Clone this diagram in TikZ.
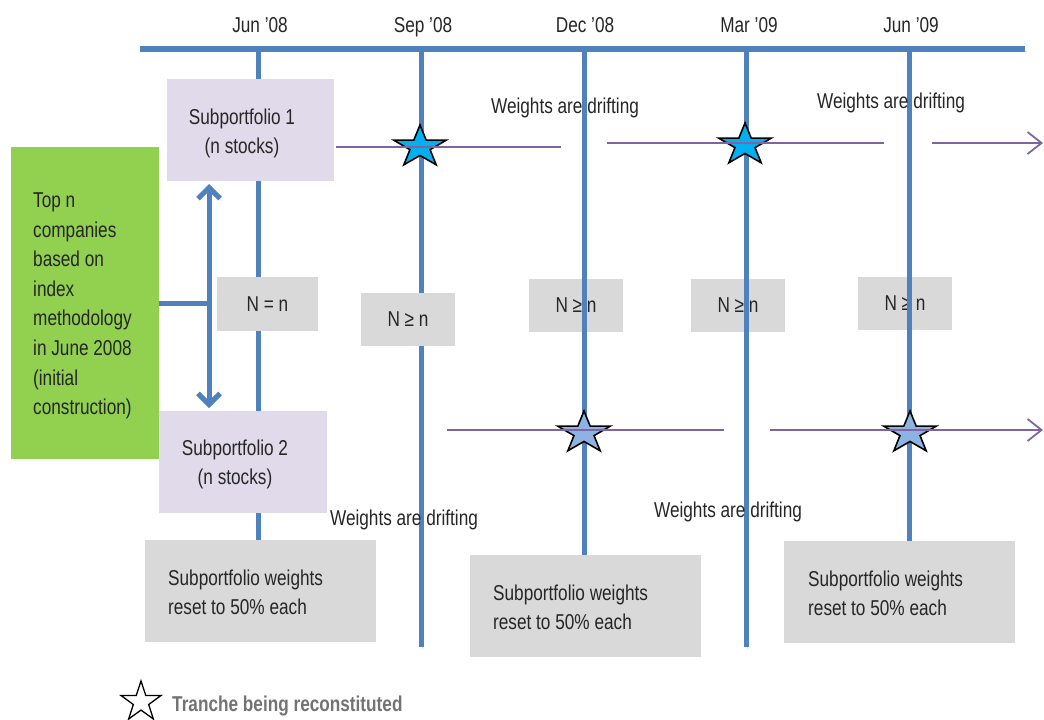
\documentclass[tikz,border=0pt]{standalone}
\usepackage{fontspec}
\setmainfont{Liberation Sans}[FakeStretch=0.8]
\usetikzlibrary{arrows.meta,shapes.geometric,calc}
\definecolor{tblue}{HTML}{4F81BD}
\definecolor{lav}{HTML}{E0DAEA}
\definecolor{lgray}{HTML}{D9D9D9}
\definecolor{tgreen}{HTML}{92D050}
\definecolor{tpurple}{HTML}{8064A2}
\definecolor{starcyan}{HTML}{00B0F0}
\definecolor{starlight}{HTML}{8DB3E2}
\definecolor{txt}{HTML}{262626}
\tikzset{
  shad/.style={preaction={draw=black!14, transform canvas={shift={(1.5pt,-2pt)}}}},
  timeline/.style={draw=tblue, line width=5pt, shad},
  boxstyle/.style={inner sep=0pt, outer sep=0pt, anchor=north west},
  lbl/.style={text=txt, font=\fontsize{21.5}{29}\selectfont, inner sep=0pt},
  drift/.style={draw=tpurple, line width=1.8pt},
  tranche/.style={star, star points=5, star point ratio=2.6, minimum size=44pt,
    inner sep=0pt, draw=black, line width=1.6pt, xscale=1.25, transform shape},
}
\begin{document}
\begin{tikzpicture}[x=1pt,y=-1pt]
\useasboundingbox (0,0) rectangle (1044,720);
% date labels
\node[lbl, anchor=base] (d1) at (260,32) {Jun '08};
\node[lbl, anchor=base] (d2) at (423,32) {Sep '08};
\node[lbl, anchor=base] (d3) at (585,32) {Dec '08};
\node[lbl, anchor=base] (d4) at (749,32) {Mar '09};
\node[lbl, anchor=base] (d5) at (911,32) {Jun '09};
% N >= n boxes that sit under the lines
\node[boxstyle, fill=lgray, minimum width=94pt, minimum height=53pt] (n3) at (529,279) {};
\node[boxstyle, fill=lgray, minimum width=94pt, minimum height=53pt] (n4) at (691,279) {};
\node[boxstyle, fill=lgray, minimum width=94pt, minimum height=53pt] (n5) at (858,277) {};
\node[lbl] at (n3.center) {N ≥ n};
\node[lbl] at (n4.center) {N ≥ n};
\node[lbl] at (n5.center) {N ≥ n};
% timeline
\coordinate (tl) at (140,49);
\coordinate (tr) at (1025,49);
\draw[timeline] (258,49) -- (258,540);
\draw[timeline] (421,49) -- (421,647);
\draw[timeline] (584,49) -- (584,555);
\draw[timeline] (746,49) -- (746,647);
\draw[timeline] (909,49) -- (909,541);
\draw[timeline, line width=6pt] (tl) -- (tr);
% boxes over lines
\node[boxstyle, fill=lav, minimum width=167pt, minimum height=102pt] (sub1) at (167,79) {};
\node[lbl, align=center] at (242,133) {Subportfolio 1\\(n stocks)};
\node[boxstyle, fill=lav, minimum width=168pt, minimum height=102pt] (sub2) at (159,411) {};
\node[lbl, align=center] at (235,464) {Subportfolio 2\\(n stocks)};
\node[boxstyle, fill=lgray, minimum width=101pt, minimum height=54pt] (n1) at (217,277) {};
\node[lbl] at (n1.center) {N = n};
\node[boxstyle, fill=lgray, minimum width=94pt, minimum height=53pt] (n2) at (361,293) {};
\node[lbl] at (n2.center) {N ≥ n};
\node[boxstyle, fill=tgreen, minimum width=148pt, minimum height=312pt] (green) at (11,147) {};
\node[lbl, align=left, anchor=west, font=\fontsize{21.5}{29.6}\selectfont] at (33,306) {Top n\\companies\\based on\\index\\methodology\\in June 2008\\(initial\\construction)};
% reset boxes
\node[boxstyle, fill=lgray, minimum width=231pt, minimum height=102pt] (r1) at (145,540) {};
\node[lbl, align=left, anchor=west] at (168,592) {Subportfolio weights\\reset to 50\% each};
\node[boxstyle, fill=lgray, minimum width=231pt, minimum height=102pt] (r2) at (470,555) {};
\node[lbl, align=left, anchor=west] at (493,607) {Subportfolio weights\\reset to 50\% each};
\node[boxstyle, fill=lgray, minimum width=231pt, minimum height=102pt] (r3) at (784,541) {};
\node[lbl, align=left, anchor=west] at (808,593) {Subportfolio weights\\reset to 50\% each};
% construction arrows
\coordinate (split) at (209,303);
\draw[draw=tblue, line width=5pt, shad] (green.east |- split) -- (split);
\draw[draw=tblue, line width=5pt, shad, shorten <=3pt, shorten >=3pt,
  {Straight Barb[length=11pt,width=22pt]}-{Straight Barb[length=11pt,width=22pt]}]
  (sub1.south -| split) -- (sub2.north -| split);
% stars
\node[tranche, fill=starcyan] (s1) at (420,147) {};
\node[tranche, fill=starcyan] (s2) at (745,145) {};
\node[tranche, fill=starlight] (s3) at (584,433) {};
\node[tranche, fill=starlight] (s4) at (910,433) {};
% drifting lines
\coordinate (a1) at (336,147); \coordinate (a2) at (561,147);
\coordinate (a3) at (607,143); \coordinate (a4) at (884,143);
\coordinate (a5) at (932,143); \coordinate (a6) at (1043,143);
\coordinate (b1) at (447,430); \coordinate (b2) at (724,430);
\coordinate (b3) at (770,430); \coordinate (b6) at (1043,430);
\draw[drift] (a1) -- (a2);
\draw[drift] (a3) -- (a4);
\draw[drift, -{Straight Barb[length=14pt,width=22pt]}] (a5) -- (a6);
\draw[drift] (b1) -- (b2);
\draw[drift, -{Straight Barb[length=14pt,width=22pt]}] (b3) -- (b6);
% drift labels
\node[lbl, anchor=base] (w1) at (565,113) {Weights are drifting};
\node[lbl, anchor=base] (w2) at (891,108) {Weights are drifting};
\node[lbl, anchor=base] (w3) at (404,525) {Weights are drifting};
\node[lbl, anchor=base] (w4) at (728,517) {Weights are drifting};
% legend
\node[star, star points=5, star point ratio=2.6, minimum size=42pt, inner sep=0pt,
  draw=black, line width=1.3pt, fill=white] (leg) at (141,702) {};
\node[anchor=west, inner sep=0pt, text=black!55, font=\fontsize{21.5}{24}\selectfont\bfseries] (legt) at (172,706) {Tranche being reconstituted};
\end{tikzpicture}
\end{document}
